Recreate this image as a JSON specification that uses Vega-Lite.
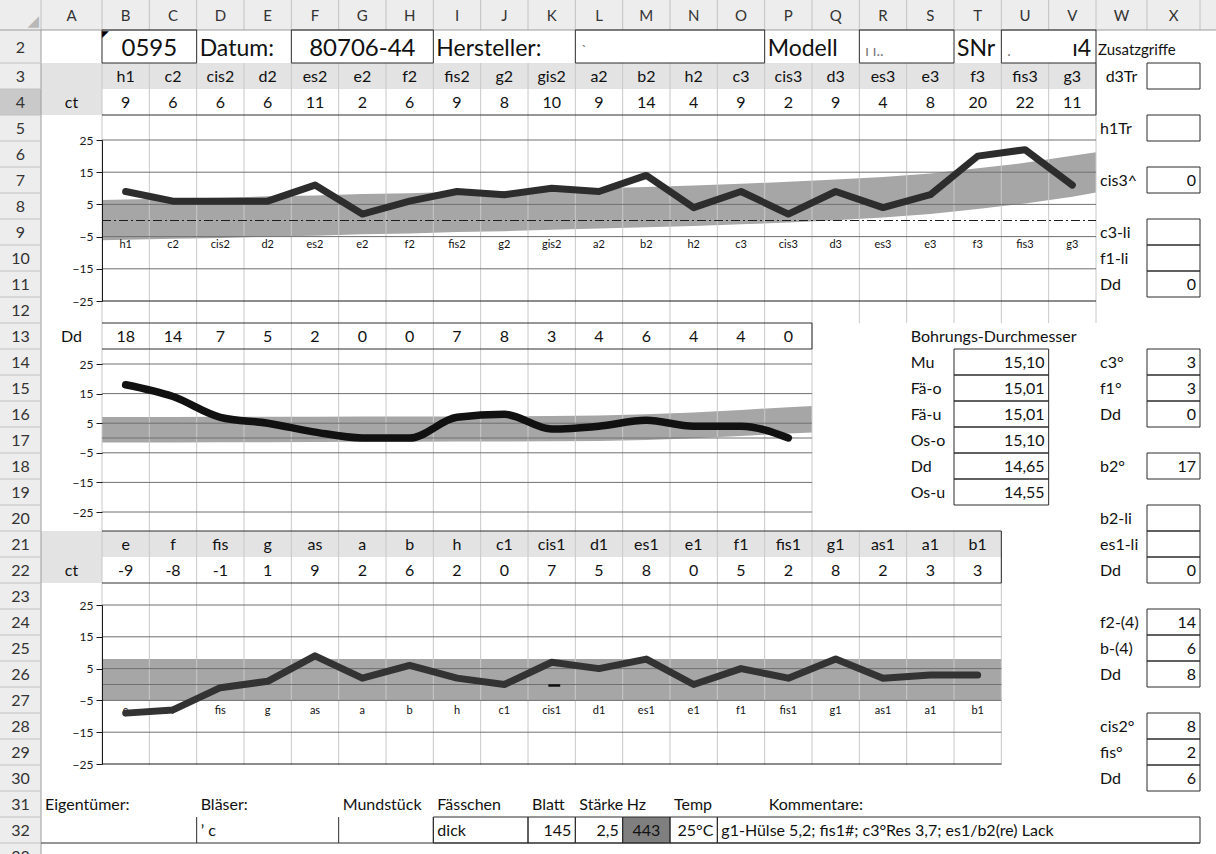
{
"$schema": "https://vega.github.io/schema/vega-lite/v6.json",
"width": 1216, "height": 854, "autosize": "none", "padding": 0, "background": "#ffffff",
"config": {"view": {"stroke": null}, "text": {"font": "Lato"}, "axis": {"labelFont": "Lato"}},
"datasets": {
"cells": [
{"x":1,"y":1,"t":"A","k":"colhd"},{"x":2,"y":1,"t":"B","k":"colhd"},{"x":3,"y":1,"t":"C","k":"colhd"},{"x":4,"y":1,"t":"D","k":"colhd"},{"x":5,"y":1,"t":"E","k":"colhd"},{"x":6,"y":1,"t":"F","k":"colhd"},{"x":7,"y":1,"t":"G","k":"colhd"},{"x":8,"y":1,"t":"H","k":"colhd"},{"x":9,"y":1,"t":"I","k":"colhd"},{"x":10,"y":1,"t":"J","k":"colhd"},{"x":11,"y":1,"t":"K","k":"colhd"},{"x":12,"y":1,"t":"L","k":"colhd"},{"x":13,"y":1,"t":"M","k":"colhd"},{"x":14,"y":1,"t":"N","k":"colhd"},{"x":15,"y":1,"t":"O","k":"colhd"},{"x":16,"y":1,"t":"P","k":"colhd"},{"x":17,"y":1,"t":"Q","k":"colhd"},{"x":18,"y":1,"t":"R","k":"colhd"},{"x":19,"y":1,"t":"S","k":"colhd"},{"x":20,"y":1,"t":"T","k":"colhd"},{"x":21,"y":1,"t":"U","k":"colhd"},{"x":22,"y":1,"t":"V","k":"colhd"},{"x":23,"y":1,"t":"W","k":"colhd"},{"x":24,"y":1,"t":"X","k":"colhd"},
{"x":0,"y":2,"t":"2","k":"rowhd"},{"x":0,"y":3,"t":"3","k":"rowhd"},{"x":0,"y":4,"t":"4","k":"rowhd"},{"x":0,"y":5,"t":"5","k":"rowhd"},{"x":0,"y":6,"t":"6","k":"rowhd"},{"x":0,"y":7,"t":"7","k":"rowhd"},{"x":0,"y":8,"t":"8","k":"rowhd"},{"x":0,"y":9,"t":"9","k":"rowhd"},{"x":0,"y":10,"t":"10","k":"rowhd"},{"x":0,"y":11,"t":"11","k":"rowhd"},{"x":0,"y":12,"t":"12","k":"rowhd"},{"x":0,"y":13,"t":"13","k":"rowhd"},{"x":0,"y":14,"t":"14","k":"rowhd"},{"x":0,"y":15,"t":"15","k":"rowhd"},{"x":0,"y":16,"t":"16","k":"rowhd"},{"x":0,"y":17,"t":"17","k":"rowhd"},{"x":0,"y":18,"t":"18","k":"rowhd"},{"x":0,"y":19,"t":"19","k":"rowhd"},{"x":0,"y":20,"t":"20","k":"rowhd"},{"x":0,"y":21,"t":"21","k":"rowhd"},{"x":0,"y":22,"t":"22","k":"rowhd"},{"x":0,"y":23,"t":"23","k":"rowhd"},{"x":0,"y":24,"t":"24","k":"rowhd"},{"x":0,"y":25,"t":"25","k":"rowhd"},{"x":0,"y":26,"t":"26","k":"rowhd"},{"x":0,"y":27,"t":"27","k":"rowhd"},{"x":0,"y":28,"t":"28","k":"rowhd"},{"x":0,"y":29,"t":"29","k":"rowhd"},{"x":0,"y":30,"t":"30","k":"rowhd"},{"x":0,"y":31,"t":"31","k":"rowhd"},{"x":0,"y":32,"t":"32","k":"rowhd"},{"x":0,"y":33,"t":"33","k":"rowhd"},
{"x":0.5,"y":1.5,"t":"◢","k":"corner"},{"x":1.5,"y":1.5,"t":"◤","k":"mark"},
{"x":2.5,"y":2,"t":"0595","k":"big"},{"x":3.5,"y":2,"t":"Datum:","k":"bigl"},{"x":7,"y":2,"t":"80706-44","k":"big"},{"x":8.5,"y":2,"t":"Hersteller:","k":"bigl"},{"x":11.5,"y":2,"t":"ˋ","k":"faint"},{"x":15.5,"y":2,"t":"Modell","k":"bigl"},{"x":17.5,"y":2,"t":"ı   ı..","k":"faint"},{"x":19.5,"y":2,"t":"SNr","k":"bigl"},{"x":20.5,"y":2,"t":".","k":"faint"},{"x":22.5,"y":2,"t":"ı4","k":"bigr"},{"x":22.5,"y":2,"t":"Zusatzgriffe","k":"sm"},
{"x":2,"y":3,"t":"h1","k":"c"},{"x":3,"y":3,"t":"c2","k":"c"},{"x":4,"y":3,"t":"cis2","k":"c"},{"x":5,"y":3,"t":"d2","k":"c"},{"x":6,"y":3,"t":"es2","k":"c"},{"x":7,"y":3,"t":"e2","k":"c"},{"x":8,"y":3,"t":"f2","k":"c"},{"x":9,"y":3,"t":"fis2","k":"c"},{"x":10,"y":3,"t":"g2","k":"c"},{"x":11,"y":3,"t":"gis2","k":"c"},{"x":12,"y":3,"t":"a2","k":"c"},{"x":13,"y":3,"t":"b2","k":"c"},{"x":14,"y":3,"t":"h2","k":"c"},{"x":15,"y":3,"t":"c3","k":"c"},{"x":16,"y":3,"t":"cis3","k":"c"},{"x":17,"y":3,"t":"d3","k":"c"},{"x":18,"y":3,"t":"es3","k":"c"},{"x":19,"y":3,"t":"e3","k":"c"},{"x":20,"y":3,"t":"f3","k":"c"},{"x":21,"y":3,"t":"fis3","k":"c"},{"x":22,"y":3,"t":"g3","k":"c"},{"x":23,"y":3,"t":"d3Tr","k":"c"},
{"x":1,"y":4,"t":"ct","k":"c"},{"x":2,"y":4,"t":"9","k":"c"},{"x":3,"y":4,"t":"6","k":"c"},{"x":4,"y":4,"t":"6","k":"c"},{"x":5,"y":4,"t":"6","k":"c"},{"x":6,"y":4,"t":"11","k":"c"},{"x":7,"y":4,"t":"2","k":"c"},{"x":8,"y":4,"t":"6","k":"c"},{"x":9,"y":4,"t":"9","k":"c"},{"x":10,"y":4,"t":"8","k":"c"},{"x":11,"y":4,"t":"10","k":"c"},{"x":12,"y":4,"t":"9","k":"c"},{"x":13,"y":4,"t":"14","k":"c"},{"x":14,"y":4,"t":"4","k":"c"},{"x":15,"y":4,"t":"9","k":"c"},{"x":16,"y":4,"t":"2","k":"c"},{"x":17,"y":4,"t":"9","k":"c"},{"x":18,"y":4,"t":"4","k":"c"},{"x":19,"y":4,"t":"8","k":"c"},{"x":20,"y":4,"t":"20","k":"c"},{"x":21,"y":4,"t":"22","k":"c"},{"x":22,"y":4,"t":"11","k":"c"},
{"x":22.5,"y":5,"t":"h1Tr","k":"l"},{"x":22.5,"y":7,"t":"cis3^","k":"l"},{"x":22.5,"y":9,"t":"c3-li","k":"l"},{"x":22.5,"y":10,"t":"f1-li","k":"l"},{"x":22.5,"y":11,"t":"Dd","k":"l"},{"x":22.5,"y":14,"t":"c3°","k":"l"},{"x":22.5,"y":15,"t":"f1°","k":"l"},{"x":22.5,"y":16,"t":"Dd","k":"l"},{"x":22.5,"y":18,"t":"b2°","k":"l"},{"x":22.5,"y":20,"t":"b2-li","k":"l"},{"x":22.5,"y":21,"t":"es1-li","k":"l"},{"x":22.5,"y":22,"t":"Dd","k":"l"},{"x":22.5,"y":24,"t":"f2-(4)","k":"l"},{"x":22.5,"y":25,"t":"b-(4)","k":"l"},{"x":22.5,"y":26,"t":"Dd","k":"l"},{"x":22.5,"y":28,"t":"cis2°","k":"l"},{"x":22.5,"y":29,"t":"fis°","k":"l"},{"x":22.5,"y":30,"t":"Dd","k":"l"},
{"x":24.5,"y":7,"t":"0","k":"r"},{"x":24.5,"y":11,"t":"0","k":"r"},{"x":24.5,"y":14,"t":"3","k":"r"},{"x":24.5,"y":15,"t":"3","k":"r"},{"x":24.5,"y":16,"t":"0","k":"r"},{"x":24.5,"y":18,"t":"17","k":"r"},{"x":24.5,"y":22,"t":"0","k":"r"},{"x":24.5,"y":24,"t":"14","k":"r"},{"x":24.5,"y":25,"t":"6","k":"r"},{"x":24.5,"y":26,"t":"8","k":"r"},{"x":24.5,"y":28,"t":"8","k":"r"},{"x":24.5,"y":29,"t":"2","k":"r"},{"x":24.5,"y":30,"t":"6","k":"r"},
{"x":1,"y":13,"t":"Dd","k":"c"},{"x":2,"y":13,"t":"18","k":"c"},{"x":3,"y":13,"t":"14","k":"c"},{"x":4,"y":13,"t":"7","k":"c"},{"x":5,"y":13,"t":"5","k":"c"},{"x":6,"y":13,"t":"2","k":"c"},{"x":7,"y":13,"t":"0","k":"c"},{"x":8,"y":13,"t":"0","k":"c"},{"x":9,"y":13,"t":"7","k":"c"},{"x":10,"y":13,"t":"8","k":"c"},{"x":11,"y":13,"t":"3","k":"c"},{"x":12,"y":13,"t":"4","k":"c"},{"x":13,"y":13,"t":"6","k":"c"},{"x":14,"y":13,"t":"4","k":"c"},{"x":15,"y":13,"t":"4","k":"c"},{"x":16,"y":13,"t":"0","k":"c"},
{"x":18.5,"y":13,"t":"Bohrungs-Durchmesser","k":"l"},
{"x":18.5,"y":14,"t":"Mu","k":"l"},{"x":18.5,"y":15,"t":"Fä-o","k":"l"},{"x":18.5,"y":16,"t":"Fä-u","k":"l"},{"x":18.5,"y":17,"t":"Os-o","k":"l"},{"x":18.5,"y":18,"t":"Dd","k":"l"},{"x":18.5,"y":19,"t":"Os-u","k":"l"},
{"x":21.5,"y":14,"t":"15,10","k":"r"},{"x":21.5,"y":15,"t":"15,01","k":"r"},{"x":21.5,"y":16,"t":"15,01","k":"r"},{"x":21.5,"y":17,"t":"15,10","k":"r"},{"x":21.5,"y":18,"t":"14,65","k":"r"},{"x":21.5,"y":19,"t":"14,55","k":"r"},
{"x":2,"y":21,"t":"e","k":"c"},{"x":3,"y":21,"t":"f","k":"c"},{"x":4,"y":21,"t":"fis","k":"c"},{"x":5,"y":21,"t":"g","k":"c"},{"x":6,"y":21,"t":"as","k":"c"},{"x":7,"y":21,"t":"a","k":"c"},{"x":8,"y":21,"t":"b","k":"c"},{"x":9,"y":21,"t":"h","k":"c"},{"x":10,"y":21,"t":"c1","k":"c"},{"x":11,"y":21,"t":"cis1","k":"c"},{"x":12,"y":21,"t":"d1","k":"c"},{"x":13,"y":21,"t":"es1","k":"c"},{"x":14,"y":21,"t":"e1","k":"c"},{"x":15,"y":21,"t":"f1","k":"c"},{"x":16,"y":21,"t":"fis1","k":"c"},{"x":17,"y":21,"t":"g1","k":"c"},{"x":18,"y":21,"t":"as1","k":"c"},{"x":19,"y":21,"t":"a1","k":"c"},{"x":20,"y":21,"t":"b1","k":"c"},
{"x":1,"y":22,"t":"ct","k":"c"},{"x":2,"y":22,"t":"-9","k":"c"},{"x":3,"y":22,"t":"-8","k":"c"},{"x":4,"y":22,"t":"-1","k":"c"},{"x":5,"y":22,"t":"1","k":"c"},{"x":6,"y":22,"t":"9","k":"c"},{"x":7,"y":22,"t":"2","k":"c"},{"x":8,"y":22,"t":"6","k":"c"},{"x":9,"y":22,"t":"2","k":"c"},{"x":10,"y":22,"t":"0","k":"c"},{"x":11,"y":22,"t":"7","k":"c"},{"x":12,"y":22,"t":"5","k":"c"},{"x":13,"y":22,"t":"8","k":"c"},{"x":14,"y":22,"t":"0","k":"c"},{"x":15,"y":22,"t":"5","k":"c"},{"x":16,"y":22,"t":"2","k":"c"},{"x":17,"y":22,"t":"8","k":"c"},{"x":18,"y":22,"t":"2","k":"c"},{"x":19,"y":22,"t":"3","k":"c"},{"x":20,"y":22,"t":"3","k":"c"},
{"x":0.5,"y":31,"t":"Eigentümer:","k":"l"},{"x":3.5,"y":31,"t":"Bläser:","k":"l"},{"x":6.5,"y":31,"t":"Mundstück","k":"l"},{"x":8.5,"y":31,"t":"Fässchen","k":"l"},{"x":10.5,"y":31,"t":"Blatt","k":"l"},{"x":11.5,"y":31,"t":"Stärke","k":"l"},{"x":12.5,"y":31,"t":"Hz","k":"l"},{"x":13.5,"y":31,"t":"Temp","k":"l"},{"x":15.5,"y":31,"t":"Kommentare:","k":"l"},
{"x":3.5,"y":32,"t":"ʼ    c","k":"l"},{"x":8.5,"y":32,"t":"dick","k":"l"},{"x":11.5,"y":32,"t":"145","k":"r"},{"x":12.5,"y":32,"t":"2,5","k":"r"},{"x":13,"y":32,"t":"443","k":"c"},{"x":14.5,"y":32,"t":"25°C","k":"r"},{"x":14.5,"y":32,"t":"g1-Hülse 5,2; fis1#; c3°Res 3,7; es1/b2(re) Lack","k":"l"}
],
"fills": [
{"x":-0.5,"x2":25.5,"y":0.5,"y2":1.5,"k":"head"},{"x":-0.5,"x2":0.5,"y":1.5,"y2":33.5,"k":"head"},{"x":-0.5,"x2":0.5,"y":3.5,"y2":4.5,"k":"sel"},
{"x":0.5,"x2":22.5,"y":2.5,"y2":3.5,"k":"gray"},{"x":0.5,"x2":1.5,"y":3.5,"y2":4.5,"k":"gray"},{"x":0.5,"x2":20.5,"y":20.5,"y2":21.5,"k":"gray"},{"x":0.5,"x2":1.5,"y":21.5,"y2":22.5,"k":"gray"},
{"x":12.5,"x2":13.5,"y":31.5,"y2":32.5,"k":"dark"}
],
"boxes": [
{"x":1.5,"x2":3.5,"y":1.5,"y2":2.5},{"x":5.5,"x2":8.5,"y":1.5,"y2":2.5},{"x":11.5,"x2":15.5,"y":1.5,"y2":2.5},{"x":17.5,"x2":19.5,"y":1.5,"y2":2.5},{"x":20.5,"x2":22.5,"y":1.5,"y2":2.5},
{"x":23.5,"x2":24.5,"y":2.5,"y2":3.5},{"x":23.5,"x2":24.5,"y":4.5,"y2":5.5},{"x":23.5,"x2":24.5,"y":6.5,"y2":7.5},{"x":23.5,"x2":24.5,"y":8.5,"y2":9.5},{"x":23.5,"x2":24.5,"y":9.5,"y2":10.5},{"x":23.5,"x2":24.5,"y":10.5,"y2":11.5},
{"x":23.5,"x2":24.5,"y":13.5,"y2":14.5},{"x":23.5,"x2":24.5,"y":14.5,"y2":15.5},{"x":23.5,"x2":24.5,"y":15.5,"y2":16.5},{"x":23.5,"x2":24.5,"y":17.5,"y2":18.5},
{"x":23.5,"x2":24.5,"y":19.5,"y2":20.5},{"x":23.5,"x2":24.5,"y":20.5,"y2":21.5},{"x":23.5,"x2":24.5,"y":21.5,"y2":22.5},
{"x":23.5,"x2":24.5,"y":23.5,"y2":24.5},{"x":23.5,"x2":24.5,"y":24.5,"y2":25.5},{"x":23.5,"x2":24.5,"y":25.5,"y2":26.5},
{"x":23.5,"x2":24.5,"y":27.5,"y2":28.5},{"x":23.5,"x2":24.5,"y":28.5,"y2":29.5},{"x":23.5,"x2":24.5,"y":29.5,"y2":30.5},
{"x":19.5,"x2":21.5,"y":13.5,"y2":14.5},{"x":19.5,"x2":21.5,"y":14.5,"y2":15.5},{"x":19.5,"x2":21.5,"y":15.5,"y2":16.5},{"x":19.5,"x2":21.5,"y":16.5,"y2":17.5},{"x":19.5,"x2":21.5,"y":17.5,"y2":18.5},{"x":19.5,"x2":21.5,"y":18.5,"y2":19.5},
{"x":8.5,"x2":10.5,"y":31.5,"y2":32.5},{"x":10.5,"x2":11.5,"y":31.5,"y2":32.5},{"x":11.5,"x2":12.5,"y":31.5,"y2":32.5},{"x":12.5,"x2":13.5,"y":31.5,"y2":32.5},{"x":13.5,"x2":14.5,"y":31.5,"y2":32.5},{"x":14.5,"x2":24.5,"y":31.5,"y2":32.5}
],
"vlines": [
{"x":0.5,"y":0.5,"y2":1.5,"k":"hd"},{"x":1.5,"y":0.5,"y2":1.5,"k":"hd"},{"x":2.5,"y":0.5,"y2":1.5,"k":"hd"},{"x":3.5,"y":0.5,"y2":1.5,"k":"hd"},{"x":4.5,"y":0.5,"y2":1.5,"k":"hd"},{"x":5.5,"y":0.5,"y2":1.5,"k":"hd"},{"x":6.5,"y":0.5,"y2":1.5,"k":"hd"},{"x":7.5,"y":0.5,"y2":1.5,"k":"hd"},{"x":8.5,"y":0.5,"y2":1.5,"k":"hd"},{"x":9.5,"y":0.5,"y2":1.5,"k":"hd"},{"x":10.5,"y":0.5,"y2":1.5,"k":"hd"},{"x":11.5,"y":0.5,"y2":1.5,"k":"hd"},{"x":12.5,"y":0.5,"y2":1.5,"k":"hd"},{"x":13.5,"y":0.5,"y2":1.5,"k":"hd"},{"x":14.5,"y":0.5,"y2":1.5,"k":"hd"},{"x":15.5,"y":0.5,"y2":1.5,"k":"hd"},{"x":16.5,"y":0.5,"y2":1.5,"k":"hd"},{"x":17.5,"y":0.5,"y2":1.5,"k":"hd"},{"x":18.5,"y":0.5,"y2":1.5,"k":"hd"},{"x":19.5,"y":0.5,"y2":1.5,"k":"hd"},{"x":20.5,"y":0.5,"y2":1.5,"k":"hd"},{"x":21.5,"y":0.5,"y2":1.5,"k":"hd"},{"x":22.5,"y":0.5,"y2":1.5,"k":"hd"},{"x":23.5,"y":0.5,"y2":1.5,"k":"hd"},{"x":24.5,"y":0.5,"y2":1.5,"k":"hd"},
{"x":0.5,"y":1.5,"y2":33.5,"k":"edge"},
{"x":1.5,"y":2.5,"y2":29.5,"k":"cell"},{"x":2.5,"y":2.5,"y2":29.5,"k":"cell"},{"x":3.5,"y":2.5,"y2":29.5,"k":"cell"},{"x":4.5,"y":2.5,"y2":29.5,"k":"cell"},{"x":5.5,"y":2.5,"y2":29.5,"k":"cell"},{"x":6.5,"y":2.5,"y2":29.5,"k":"cell"},{"x":7.5,"y":2.5,"y2":29.5,"k":"cell"},{"x":8.5,"y":2.5,"y2":29.5,"k":"cell"},{"x":9.5,"y":2.5,"y2":29.5,"k":"cell"},{"x":10.5,"y":2.5,"y2":29.5,"k":"cell"},{"x":11.5,"y":2.5,"y2":29.5,"k":"cell"},{"x":12.5,"y":2.5,"y2":29.5,"k":"cell"},{"x":13.5,"y":2.5,"y2":29.5,"k":"cell"},{"x":14.5,"y":2.5,"y2":29.5,"k":"cell"},{"x":15.5,"y":2.5,"y2":29.5,"k":"cell"},{"x":16.5,"y":2.5,"y2":29.5,"k":"cell"},
{"x":17.5,"y":2.5,"y2":12.5,"k":"cell"},{"x":18.5,"y":2.5,"y2":12.5,"k":"cell"},{"x":19.5,"y":2.5,"y2":12.5,"k":"cell"},{"x":20.5,"y":2.5,"y2":12.5,"k":"cell"},{"x":21.5,"y":2.5,"y2":12.5,"k":"cell"},{"x":22.5,"y":2.5,"y2":12.5,"k":"cell"},
{"x":17.5,"y":20.5,"y2":29.5,"k":"cell"},{"x":18.5,"y":20.5,"y2":29.5,"k":"cell"},{"x":19.5,"y":20.5,"y2":29.5,"k":"cell"},{"x":20.5,"y":20.5,"y2":29.5,"k":"cell"},
{"x":22.5,"y":2.5,"y2":4.5,"k":"bd"},{"x":16.5,"y":12.5,"y2":13.5,"k":"bd"},{"x":20.5,"y":20.5,"y2":22.5,"k":"bd"},{"x":3.5,"y":31.5,"y2":32.5,"k":"bd"},{"x":6.5,"y":31.5,"y2":32.5,"k":"bd"},{"x":8.5,"y":31.5,"y2":32.5,"k":"bd"}
],
"hlines": [
{"x":-0.5,"x2":25.5,"y":1.5,"k":"edge"},
{"x":-0.5,"x2":0.5,"y":2.5,"k":"hd"},{"x":-0.5,"x2":0.5,"y":3.5,"k":"hd"},{"x":-0.5,"x2":0.5,"y":4.5,"k":"hd"},{"x":-0.5,"x2":0.5,"y":5.5,"k":"hd"},{"x":-0.5,"x2":0.5,"y":6.5,"k":"hd"},{"x":-0.5,"x2":0.5,"y":7.5,"k":"hd"},{"x":-0.5,"x2":0.5,"y":8.5,"k":"hd"},{"x":-0.5,"x2":0.5,"y":9.5,"k":"hd"},{"x":-0.5,"x2":0.5,"y":10.5,"k":"hd"},{"x":-0.5,"x2":0.5,"y":11.5,"k":"hd"},{"x":-0.5,"x2":0.5,"y":12.5,"k":"hd"},{"x":-0.5,"x2":0.5,"y":13.5,"k":"hd"},{"x":-0.5,"x2":0.5,"y":14.5,"k":"hd"},{"x":-0.5,"x2":0.5,"y":15.5,"k":"hd"},{"x":-0.5,"x2":0.5,"y":16.5,"k":"hd"},{"x":-0.5,"x2":0.5,"y":17.5,"k":"hd"},{"x":-0.5,"x2":0.5,"y":18.5,"k":"hd"},{"x":-0.5,"x2":0.5,"y":19.5,"k":"hd"},{"x":-0.5,"x2":0.5,"y":20.5,"k":"hd"},{"x":-0.5,"x2":0.5,"y":21.5,"k":"hd"},{"x":-0.5,"x2":0.5,"y":22.5,"k":"hd"},{"x":-0.5,"x2":0.5,"y":23.5,"k":"hd"},{"x":-0.5,"x2":0.5,"y":24.5,"k":"hd"},{"x":-0.5,"x2":0.5,"y":25.5,"k":"hd"},{"x":-0.5,"x2":0.5,"y":26.5,"k":"hd"},{"x":-0.5,"x2":0.5,"y":27.5,"k":"hd"},{"x":-0.5,"x2":0.5,"y":28.5,"k":"hd"},{"x":-0.5,"x2":0.5,"y":29.5,"k":"hd"},{"x":-0.5,"x2":0.5,"y":30.5,"k":"hd"},{"x":-0.5,"x2":0.5,"y":31.5,"k":"hd"},{"x":-0.5,"x2":0.5,"y":32.5,"k":"hd"},
{"x":1.5,"x2":22.5,"y":4.5,"k":"bd"},{"x":1.5,"x2":16.5,"y":12.5,"k":"bd"},{"x":1.5,"x2":16.5,"y":13.5,"k":"bd"},{"x":1.5,"x2":20.5,"y":20.5,"k":"bd"},{"x":1.5,"x2":20.5,"y":22.5,"k":"bd"},{"x":0.5,"x2":24.5,"y":32.5,"k":"bd"}
],
"band1": [
{"x":1.5,"lo":-6.1,"hi":6.4},{"x":2,"lo":-6.0,"hi":6.5},{"x":3,"lo":-5.7,"hi":6.8},{"x":4,"lo":-5.4,"hi":7.1},{"x":5,"lo":-5.0,"hi":7.5},{"x":6,"lo":-4.7,"hi":7.8},{"x":7,"lo":-4.3,"hi":8.2},{"x":8,"lo":-4.0,"hi":8.5},{"x":9,"lo":-3.6,"hi":8.9},{"x":10,"lo":-3.3,"hi":9.2},{"x":11,"lo":-2.9,"hi":9.6},{"x":12,"lo":-2.5,"hi":10.0},{"x":13,"lo":-2.1,"hi":10.4},{"x":14,"lo":-1.7,"hi":10.9},{"x":15,"lo":-1.2,"hi":11.4},{"x":16,"lo":-0.6,"hi":12.0},{"x":17,"lo":0.1,"hi":12.7},{"x":18,"lo":0.9,"hi":13.5},{"x":19,"lo":2.0,"hi":14.6},{"x":20,"lo":3.6,"hi":16.2},{"x":21,"lo":5.3,"hi":17.9},{"x":22,"lo":7.4,"hi":20.1},{"x":22.5,"lo":8.7,"hi":21.2}
],
"band2": [
{"x":1.5,"lo":-1.5,"hi":7.1},{"x":2,"lo":-1.5,"hi":7.1},{"x":3,"lo":-1.5,"hi":7.1},{"x":4,"lo":-1.45,"hi":7.15},{"x":5,"lo":-1.4,"hi":7.2},{"x":6,"lo":-1.35,"hi":7.2},{"x":7,"lo":-1.3,"hi":7.25},{"x":8,"lo":-1.25,"hi":7.3},{"x":9,"lo":-1.2,"hi":7.3},{"x":10,"lo":-1.15,"hi":7.35},{"x":11,"lo":-1.1,"hi":7.4},{"x":12,"lo":-1.0,"hi":7.6},{"x":13,"lo":-0.7,"hi":8.0},{"x":14,"lo":-0.1,"hi":8.6},{"x":15,"lo":0.7,"hi":9.5},{"x":16,"lo":1.5,"hi":10.4},{"x":16.5,"lo":1.9,"hi":10.8}
],
"band3": [{"x":1.5,"lo":-5,"hi":8},{"x":20.5,"lo":-5,"hi":8}],
"line1": [
{"x":2,"n":"h1","v":9},{"x":3,"n":"c2","v":6},{"x":4,"n":"cis2","v":6},{"x":5,"n":"d2","v":6},{"x":6,"n":"es2","v":11},{"x":7,"n":"e2","v":2},{"x":8,"n":"f2","v":6},{"x":9,"n":"fis2","v":9},{"x":10,"n":"g2","v":8},{"x":11,"n":"gis2","v":10},{"x":12,"n":"a2","v":9},{"x":13,"n":"b2","v":14},{"x":14,"n":"h2","v":4},{"x":15,"n":"c3","v":9},{"x":16,"n":"cis3","v":2},{"x":17,"n":"d3","v":9},{"x":18,"n":"es3","v":4},{"x":19,"n":"e3","v":8},{"x":20,"n":"f3","v":20},{"x":21,"n":"fis3","v":22},{"x":22,"n":"g3","v":11}
],
"line2": [
{"x":2,"v":18},{"x":3,"v":14},{"x":4,"v":7},{"x":5,"v":5},{"x":6,"v":2},{"x":7,"v":0},{"x":8,"v":0},{"x":9,"v":7},{"x":10,"v":8},{"x":11,"v":3},{"x":12,"v":4},{"x":13,"v":6},{"x":14,"v":4},{"x":15,"v":4},{"x":16,"v":0}
],
"line3": [
{"x":2,"n":"e","v":-9},{"x":3,"n":"f","v":-8},{"x":4,"n":"fis","v":-1},{"x":5,"n":"g","v":1},{"x":6,"n":"as","v":9},{"x":7,"n":"a","v":2},{"x":8,"n":"b","v":6},{"x":9,"n":"h","v":2},{"x":10,"n":"c1","v":0},{"x":11,"n":"cis1","v":7},{"x":12,"n":"d1","v":5},{"x":13,"n":"es1","v":8},{"x":14,"n":"e1","v":0},{"x":15,"n":"f1","v":5},{"x":16,"n":"fis1","v":2},{"x":17,"n":"g1","v":8},{"x":18,"n":"as1","v":2},{"x":19,"n":"a1","v":3},{"x":20,"n":"b1","v":3}
],
"grid1": [{"x":1.5,"x2":22.5,"v":25,"k":"g"},{"x":1.5,"x2":22.5,"v":15,"k":"g"},{"x":1.5,"x2":22.5,"v":5,"k":"g"},{"x":1.5,"x2":22.5,"v":-5,"k":"g"},{"x":1.5,"x2":22.5,"v":-15,"k":"g"},{"x":1.5,"x2":22.5,"v":-25,"k":"base"},{"x":1.5,"x2":22.5,"v":0,"k":"dash"}],
"grid2": [{"x":1.5,"x2":16.5,"v":25,"k":"g"},{"x":1.5,"x2":16.5,"v":15,"k":"g"},{"x":1.5,"x2":16.5,"v":5,"k":"g"},{"x":1.5,"x2":16.5,"v":0,"k":"g"},{"x":1.5,"x2":16.5,"v":-5,"k":"g"},{"x":1.5,"x2":16.5,"v":-15,"k":"g"},{"x":1.5,"x2":16.5,"v":-25,"k":"g"}],
"grid3": [{"x":1.5,"x2":20.5,"v":25,"k":"g"},{"x":1.5,"x2":20.5,"v":15,"k":"g"},{"x":1.5,"x2":20.5,"v":5,"k":"g"},{"x":1.5,"x2":20.5,"v":0,"k":"g"},{"x":1.5,"x2":20.5,"v":-5,"k":"g"},{"x":1.5,"x2":20.5,"v":-15,"k":"g"},{"x":1.5,"x2":20.5,"v":-25,"k":"base"},{"x":10.93,"x2":11.18,"v":-0.3,"k":"mark"}]
},
"encoding": {"x": {"field": "x", "type": "quantitative", "scale": {"domain": [-0.5, 0.5, 1.5, 22.5, 23.5, 24.5, 25.5], "range": [0, 41, 102, 1096, 1147, 1200, 1253], "nice": false, "zero": false}, "axis": null}},
"resolve": {"scale": {"y": "independent"}},
"layer": [
{"data": {"name": "band1"}, "mark": {"type": "area", "color": "#a6a6a6"}, "encoding": {"y": {"field": "lo", "type": "quantitative", "scale": {"domain": [-25, 25], "range": [301, 140], "nice": false, "zero": false}, "axis": null}, "y2": {"field": "hi"}}},
{"data": {"name": "band2"}, "mark": {"type": "area", "color": "#a6a6a6"}, "encoding": {"y": {"field": "lo", "type": "quantitative", "scale": {"domain": [-25, 25], "range": [512, 364], "nice": false, "zero": false}, "axis": null}, "y2": {"field": "hi"}}},
{"data": {"name": "band3"}, "mark": {"type": "area", "color": "#a6a6a6"}, "encoding": {"y": {"field": "lo", "type": "quantitative", "scale": {"domain": [-25, 25], "range": [764, 605], "nice": false, "zero": false}, "axis": null}, "y2": {"field": "hi"}}},
{
"encoding": {"y": {"field": "y", "type": "quantitative", "scale": {"domain": [0.5, 1.5, 2.5, 33.5], "range": [0, 30, 63, 869], "nice": false, "zero": false}, "axis": null}},
"layer": [
{"data": {"name": "fills"}, "mark": {"type": "rect"}, "encoding": {"x2": {"field": "x2"}, "y2": {"field": "y2"}, "fill": {"field": "k", "type": "nominal", "scale": {"domain": ["head", "sel", "gray", "dark"], "range": ["#ededed", "#c9c9c9", "#e3e3e3", "#7f7f7f"]}, "legend": null}}},
{"data": {"name": "vlines"}, "mark": {"type": "rule", "strokeWidth": 1}, "encoding": {"y2": {"field": "y2"}, "stroke": {"field": "k", "type": "nominal", "scale": {"domain": ["hd", "cell", "edge", "bd"], "range": ["#c2c2c2", "#c8c8c8", "#9c9c9c", "#2e2e2e"]}, "legend": null}}},
{"data": {"name": "hlines"}, "mark": {"type": "rule", "strokeWidth": 1}, "encoding": {"x2": {"field": "x2"}, "stroke": {"field": "k", "type": "nominal", "scale": {"domain": ["hd", "cell", "edge", "bd"], "range": ["#c2c2c2", "#c8c8c8", "#9c9c9c", "#2e2e2e"]}, "legend": null}}},
{"data": {"name": "boxes"}, "mark": {"type": "rect", "fillOpacity": 0, "stroke": "#2b2b2b", "strokeWidth": 1}, "encoding": {"x2": {"field": "x2"}, "y2": {"field": "y2"}}},
{"data": {"name": "cells"}, "transform": [{"filter": "datum.k === 'colhd'"}], "mark": {"type": "text", "align": "center", "baseline": "middle", "fontSize": 15, "color": "#333333", "dy": 1}, "encoding": {"text": {"field": "t"}}},
{"data": {"name": "cells"}, "transform": [{"filter": "datum.k === 'rowhd'"}], "mark": {"type": "text", "align": "center", "baseline": "middle", "fontSize": 16, "color": "#333333", "dy": 1}, "encoding": {"text": {"field": "t"}}},
{"data": {"name": "cells"}, "transform": [{"filter": "datum.k === 'corner'"}], "mark": {"type": "text", "align": "right", "baseline": "bottom", "fontSize": 15, "font": "DejaVu Sans", "color": "#b8b8b8", "dx": -2, "dy": -1}, "encoding": {"text": {"field": "t"}}},
{"data": {"name": "cells"}, "transform": [{"filter": "datum.k === 'mark'"}], "mark": {"type": "text", "align": "left", "baseline": "top", "fontSize": 9, "font": "DejaVu Sans", "color": "#000000"}, "encoding": {"text": {"field": "t"}}},
{"data": {"name": "cells"}, "transform": [{"filter": "datum.k === 'big'"}], "mark": {"type": "text", "align": "center", "baseline": "middle", "fontSize": 24, "color": "#111111", "dy": 2}, "encoding": {"text": {"field": "t"}}},
{"data": {"name": "cells"}, "transform": [{"filter": "datum.k === 'bigl'"}], "mark": {"type": "text", "align": "left", "baseline": "middle", "fontSize": 23, "color": "#111111", "dx": 3, "dy": 2}, "encoding": {"text": {"field": "t"}}},
{"data": {"name": "cells"}, "transform": [{"filter": "datum.k === 'bigr'"}], "mark": {"type": "text", "align": "right", "baseline": "middle", "fontSize": 23, "color": "#111111", "dx": -5, "dy": 2}, "encoding": {"text": {"field": "t"}}},
{"data": {"name": "cells"}, "transform": [{"filter": "datum.k === 'faint'"}], "mark": {"type": "text", "align": "left", "baseline": "middle", "fontSize": 15, "color": "#777777", "dx": 6, "dy": 4}, "encoding": {"text": {"field": "t"}}},
{"data": {"name": "cells"}, "transform": [{"filter": "datum.k === 'sm'"}], "mark": {"type": "text", "align": "left", "baseline": "middle", "fontSize": 15, "color": "#111111", "dx": 2, "dy": 3}, "encoding": {"text": {"field": "t"}}},
{"data": {"name": "cells"}, "transform": [{"filter": "datum.k === 'c'"}], "mark": {"type": "text", "align": "center", "baseline": "middle", "fontSize": 16, "color": "#111111", "dy": 1}, "encoding": {"text": {"field": "t"}}},
{"data": {"name": "cells"}, "transform": [{"filter": "datum.k === 'l'"}], "mark": {"type": "text", "align": "left", "baseline": "middle", "fontSize": 16, "color": "#111111", "dx": 4, "dy": 1}, "encoding": {"text": {"field": "t"}}},
{"data": {"name": "cells"}, "transform": [{"filter": "datum.k === 'r'"}], "mark": {"type": "text", "align": "right", "baseline": "middle", "fontSize": 16, "color": "#111111", "dx": -4, "dy": 1}, "encoding": {"text": {"field": "t"}}}
]
},
{
"encoding": {"y": {"field": "v", "type": "quantitative", "scale": {"domain": [-25, 25], "range": [301, 140], "nice": false, "zero": false}, "axis": {"orient": "left", "offset": -102, "values": [25, 15, 5, -5, -15, -25], "title": null, "grid": false, "domain": true, "domainColor": "#1a1a1a", "ticks": true, "tickSize": 6, "tickColor": "#1a1a1a", "labelFontSize": 12, "labelColor": "#1a1a1a", "labelPadding": 3, "labelFlush": false, "labelOverlap": false, "zindex": 1}}},
"layer": [
{"data": {"name": "grid1"}, "transform": [{"filter": "datum.k === 'g'"}], "mark": {"type": "rule", "color": "#707070", "strokeWidth": 1}, "encoding": {"x2": {"field": "x2"}}},
{"data": {"name": "grid1"}, "transform": [{"filter": "datum.k === 'base'"}], "mark": {"type": "rule", "color": "#1a1a1a", "strokeWidth": 1.2}, "encoding": {"x2": {"field": "x2"}}},
{"data": {"name": "grid1"}, "transform": [{"filter": "datum.k === 'dash'"}], "mark": {"type": "rule", "color": "#1e1e1e", "strokeWidth": 1, "strokeDash": [9, 3, 2, 3]}, "encoding": {"x2": {"field": "x2"}}},
{"data": {"name": "line1"}, "mark": {"type": "text", "align": "center", "baseline": "middle", "fontSize": 11, "color": "#111111"}, "encoding": {"y": {"datum": -7.7}, "text": {"field": "n"}}},
{"data": {"name": "line1"}, "mark": {"type": "line", "color": "#2d2d2d", "strokeWidth": 7, "strokeCap": "round", "strokeJoin": "round"}}
]
},
{
"encoding": {"y": {"field": "v", "type": "quantitative", "scale": {"domain": [-25, 25], "range": [512, 364], "nice": false, "zero": false}, "axis": {"orient": "left", "offset": -102, "values": [25, 15, 5, -5, -15, -25], "title": null, "grid": false, "domain": false, "ticks": true, "tickSize": 6, "tickColor": "#1a1a1a", "labelFontSize": 12, "labelColor": "#1a1a1a", "labelPadding": 3, "labelFlush": false, "labelOverlap": false, "zindex": 1}}},
"layer": [
{"data": {"name": "grid2"}, "mark": {"type": "rule", "color": "#707070", "strokeWidth": 1}, "encoding": {"x2": {"field": "x2"}}},
{"data": {"name": "line2"}, "mark": {"type": "line", "color": "#111111", "strokeWidth": 7.5, "strokeCap": "round", "strokeJoin": "round", "interpolate": "monotone"}}
]
},
{
"encoding": {"y": {"field": "v", "type": "quantitative", "scale": {"domain": [-25, 25], "range": [764, 605], "nice": false, "zero": false}, "axis": {"orient": "left", "offset": -102, "values": [25, 15, 5, -5, -15, -25], "title": null, "grid": false, "domain": true, "domainColor": "#1a1a1a", "ticks": true, "tickSize": 6, "tickColor": "#1a1a1a", "labelFontSize": 12, "labelColor": "#1a1a1a", "labelPadding": 3, "labelFlush": false, "labelOverlap": false, "zindex": 1}}},
"layer": [
{"data": {"name": "grid3"}, "transform": [{"filter": "datum.k === 'g'"}], "mark": {"type": "rule", "color": "#707070", "strokeWidth": 1}, "encoding": {"x2": {"field": "x2"}}},
{"data": {"name": "grid3"}, "transform": [{"filter": "datum.k === 'base'"}], "mark": {"type": "rule", "color": "#1a1a1a", "strokeWidth": 1.2}, "encoding": {"x2": {"field": "x2"}}},
{"data": {"name": "grid3"}, "transform": [{"filter": "datum.k === 'mark'"}], "mark": {"type": "rule", "color": "#111111", "strokeWidth": 2.5}, "encoding": {"x2": {"field": "x2"}}},
{"data": {"name": "line3"}, "mark": {"type": "text", "align": "center", "baseline": "middle", "fontSize": 11, "color": "#111111"}, "encoding": {"y": {"datum": -8.3}, "text": {"field": "n"}}},
{"data": {"name": "line3"}, "mark": {"type": "line", "color": "#333333", "strokeWidth": 7, "strokeCap": "round", "strokeJoin": "round"}}
]
}
]
}
